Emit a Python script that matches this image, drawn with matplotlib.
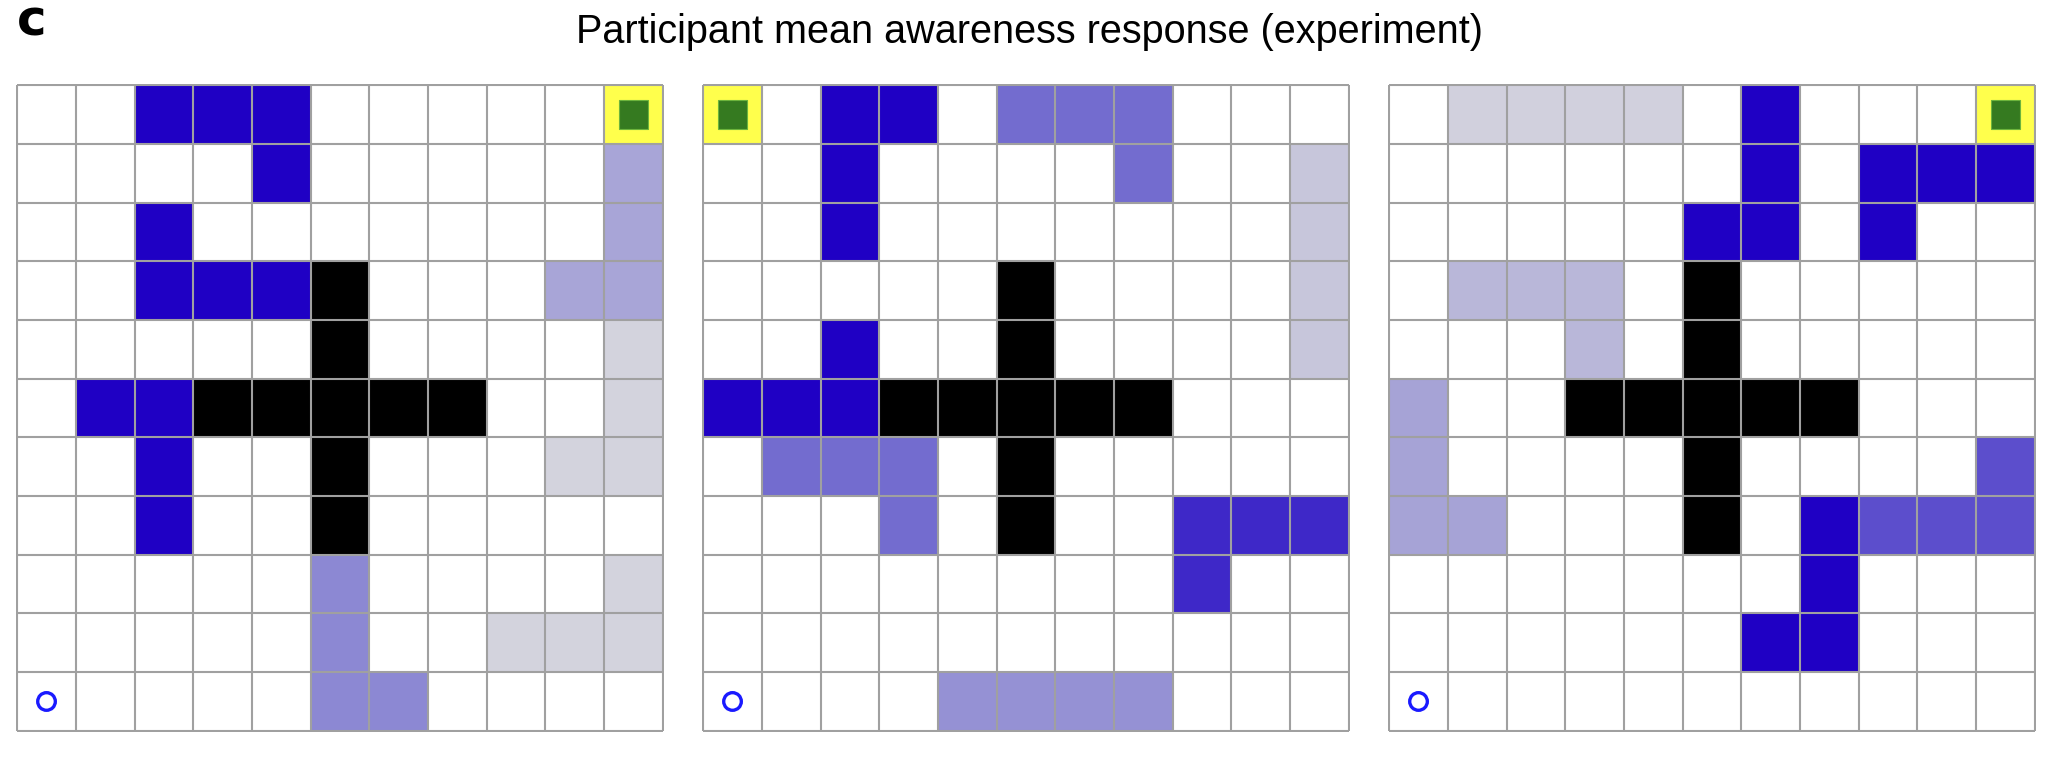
import numpy as np
import matplotlib
matplotlib.use("Agg")
import matplotlib.pyplot as plt
from matplotlib.colors import LinearSegmentedColormap
from matplotlib.patches import Rectangle, Circle

# ---- Data: 11x11 grid, row 0 = top ----
N = 11

# wall cells (row, col), same in all three mazes
wall_cells = [(3, 5), (4, 5), (5, 3), (5, 4), (5, 5), (5, 6), (5, 7), (6, 5), (7, 5)]

# start (blue circle) and goal (yellow/green) cells per panel
start_cells = [(10, 0), (10, 0), (10, 0)]
goal_cells = [(0, 10), (0, 0), (0, 10)]

# mean awareness per cell: {(row, col): value}, unlisted cells = 0 (white)
aware_1 = {
    (0, 2): 1.0, (0, 3): 1.0, (0, 4): 1.0,
    (1, 4): 1.0, (1, 10): 0.26,
    (2, 2): 1.0, (2, 10): 0.26,
    (3, 2): 1.0, (3, 3): 1.0, (3, 4): 1.0, (3, 9): 0.26, (3, 10): 0.26,
    (4, 10): 0.03,
    (5, 1): 1.0, (5, 2): 1.0, (5, 10): 0.03,
    (6, 2): 1.0, (6, 9): 0.03, (6, 10): 0.03,
    (7, 2): 1.0,
    (8, 5): 0.41, (8, 10): 0.03,
    (9, 5): 0.41, (9, 8): 0.03, (9, 9): 0.03, (9, 10): 0.03,
    (10, 5): 0.41, (10, 6): 0.41,
}
aware_2 = {
    (0, 2): 1.0, (0, 3): 1.0, (0, 5): 0.54, (0, 6): 0.54, (0, 7): 0.54,
    (1, 2): 1.0, (1, 7): 0.54, (1, 10): 0.09,
    (2, 2): 1.0, (2, 10): 0.09,
    (3, 10): 0.09,
    (4, 2): 1.0, (4, 10): 0.09,
    (5, 0): 1.0, (5, 1): 1.0, (5, 2): 1.0,
    (6, 1): 0.54, (6, 2): 0.54, (6, 3): 0.54,
    (7, 3): 0.54, (7, 8): 0.83, (7, 9): 0.83, (7, 10): 0.83,
    (8, 8): 0.83,
    (10, 4): 0.36, (10, 5): 0.36, (10, 6): 0.36, (10, 7): 0.36,
}
aware_3 = {
    (0, 1): 0.04, (0, 2): 0.04, (0, 3): 0.04, (0, 4): 0.04, (0, 6): 1.0,
    (1, 6): 1.0, (1, 8): 1.0, (1, 9): 1.0, (1, 10): 1.0,
    (2, 5): 1.0, (2, 6): 1.0, (2, 8): 1.0,
    (3, 1): 0.17, (3, 2): 0.17, (3, 3): 0.17,
    (4, 3): 0.17,
    (5, 0): 0.27,
    (6, 0): 0.27, (6, 10): 0.67,
    (7, 0): 0.27, (7, 1): 0.27, (7, 7): 1.0, (7, 8): 0.67, (7, 9): 0.67, (7, 10): 0.67,
    (8, 7): 1.0,
    (9, 6): 1.0, (9, 7): 1.0,
}
panels = [aware_1, aware_2, aware_3]

title = "Participant mean awareness response (experiment)"
panel_letter = "c"

# ---- Style ----
cmap = LinearSegmentedColormap.from_list(
    "aware", ["#d8d8de", "#7b76d0", "#1f00c4"])
grid_color = "#a0a0a0"
yellow = "#ffff4c"
green = "#357a20"

W, H = 2060, 758
fig = plt.figure(figsize=(W / 100, H / 100), dpi=100)

lefts = [16, 702, 1388]
top, size_px = 84, 648

for k, aware in enumerate(panels):
    ax = fig.add_axes([lefts[k] / W, (H - top - size_px) / H, size_px / W, size_px / H])

    vals = np.zeros((N, N))
    for (r, c), v in aware.items():
        vals[r, c] = v
    ax.pcolormesh(np.arange(N + 1), np.arange(N + 1),
                  np.ma.masked_equal(vals, 0), cmap=cmap, vmin=0, vmax=1,
                  edgecolors="none", zorder=1)

    walls = np.zeros((N, N))
    for r, c in wall_cells:
        walls[r, c] = 1
    ax.pcolormesh(np.arange(N + 1), np.arange(N + 1),
                  np.ma.masked_equal(walls, 0), cmap="gray_r", vmin=0, vmax=1,
                  edgecolors="none", zorder=2)

    gr, gc = goal_cells[k]
    ax.add_patch(Rectangle((gc, gr), 1, 1, facecolor=yellow, edgecolor="none", zorder=3))
    ax.add_patch(Rectangle((gc + 0.25, gr + 0.25), 0.5, 0.5, facecolor=green,
                           edgecolor="#6cb43c", linewidth=0.8, zorder=4))

    sr, sc = start_cells[k]
    ax.add_patch(Circle((sc + 0.5, sr + 0.5), 0.15, facecolor="none",
                        edgecolor="#1a1aff", linewidth=2.4, zorder=5))

    ax.vlines(np.arange(N + 1), 0, N, colors=grid_color, linewidth=1.5, zorder=6)
    ax.hlines(np.arange(N + 1), 0, N, colors=grid_color, linewidth=1.5, zorder=6)

    ax.set_xlim(-0.02, N + 0.02)
    ax.set_ylim(N + 0.02, -0.02)
    ax.axis("off")

fig.text(0.5, 1 - 43 / H, title, ha="center", va="baseline",
         fontsize=28.5, family="Liberation Sans")
fig.text(17 / W, 1 - 35 / H, panel_letter, ha="left", va="baseline",
         fontsize=36, fontweight="bold", family="DejaVu Sans")

fig.savefig("out.png", dpi=100)
